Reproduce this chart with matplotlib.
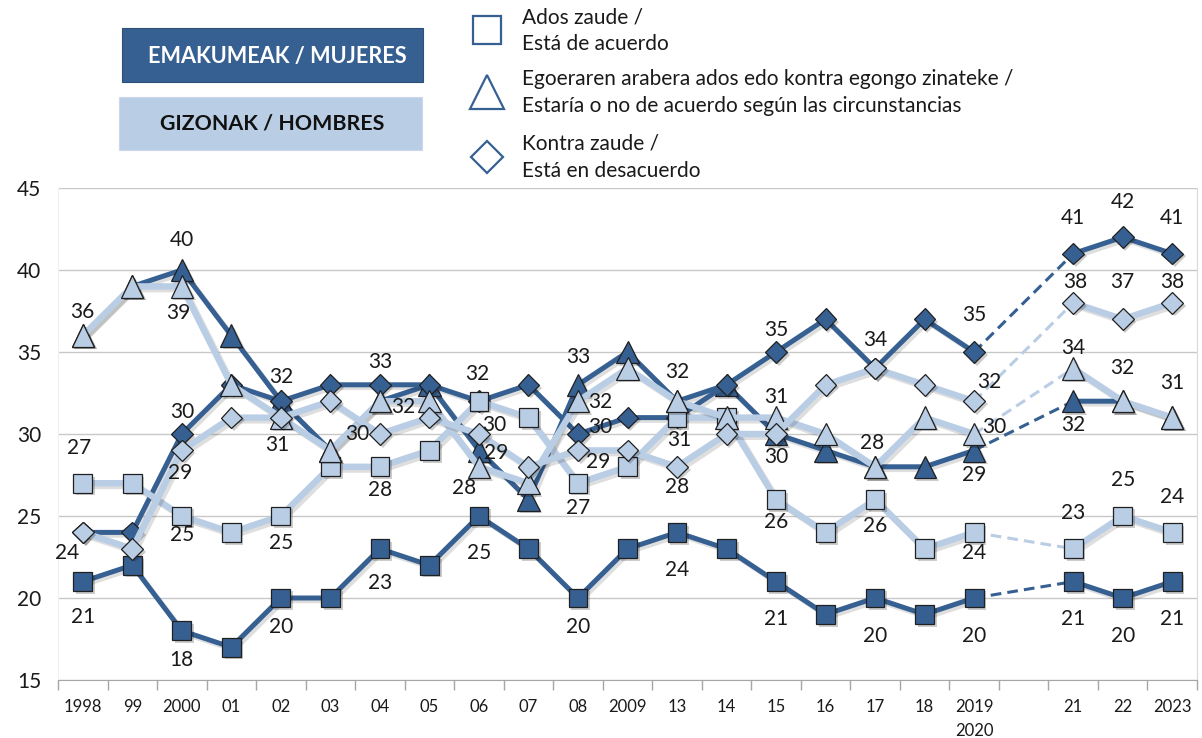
import numpy as np
import matplotlib.pyplot as plt
import matplotlib.patheffects as pe
from matplotlib.patches import Rectangle

plt.rcParams['font.family'] = ['Lato', 'DejaVu Sans']

DARK = '#376092'
LIGHT = '#B9CDE5'

years = ['1998', '99', '2000', '01', '02', '03', '04', '05', '06', '07', '08',
         '2009', '13', '14', '15', '16', '17', '18', '2019\n2020', '', '21', '22', '2023']

# None = empty slot between 2019/2020 and 2021
women_agree = [21, 22, 18, 17, 20, 20, 23, 22, 25, 23, 20, 23, 24, 23, 21, 19, 20, 19, 20, None, 21, 20, 21]
women_depends = [36, 39, 40, 36, 32, 29, 32, 33, 29, 26, 33, 35, 32, 33, 30, 29, 28, 28, 29, None, 32, 32, 31]
women_disagree = [24, 24, 30, 33, 32, 33, 33, 33, 32, 33, 30, 31, 31, 33, 35, 37, 34, 37, 35, None, 41, 42, 41]
men_agree = [27, 27, 25, 24, 25, 28, 28, 29, 32, 31, 27, 28, 31, 31, 26, 24, 26, 23, 24, None, 23, 25, 24]
men_depends = [36, 39, 39, 33, 31, 29, 32, 32, 28, 27, 32, 34, 32, 31, 31, 30, 28, 31, 30, None, 34, 32, 31]
men_disagree = [24, 23, 29, 31, 31, 32, 30, 31, 30, 28, 29, 29, 28, 30, 30, 33, 34, 33, 32, None, 38, 37, 38]

# which points get a value label, and label offset in pixels (dx, dy)
label_pos = {
    'wa': [(0, 0, -35), (2, 0, -29), (4, 0, -29), (6, 0, -34), (8, 0, -37), (10, 0, -29),
           (12, 0, -38), (14, 0, -37), (16, 0, -38), (18, 0, -38), (20, 0, -37),
           (21, 0, -38), (22, 0, -37)],
    'ma': [(0, -4, 35), (2, 0, -19), (4, 0, -27), (6, 0, -23), (8, -2, 27), (10, 0, -25),
           (12, 2, -22), (14, 0, -22), (16, 0, -26), (18, 0, -21), (20, 0, 36),
           (21, 0, 36), (22, 0, 35)],
    'wt': [(2, 0, 30), (8, 17, -3), (10, 0, 28), (12, 0, 29), (14, 0, -23), (16, -3, 24),
           (18, 0, -25), (20, 0, -24)],
    'mt': [(0, 0, 24), (2, -4, -27), (4, -4, -27), (6, 23, -6), (8, -15, -21), (10, 22, -1),
           (14, 0, 21), (18, 20, 7), (20, 0, 20), (21, 0, 33), (22, 0, 35)],
    'wd': [(2, 0, 22), (4, 0, 24), (6, 0, 23), (10, 22, 7), (14, 0, 22), (16, 0, 28),
           (18, 0, 37), (20, 0, 36), (21, 0, 35), (22, 0, 36)],
    'md': [(0, -16, -21), (2, -2, -23), (6, -23, 0), (8, 15, 9), (10, 20, -12), (12, 0, -20),
           (18, 15, 19), (20, 2, 21), (21, 0, 37), (22, 0, 21)],
}

fig = plt.figure(figsize=(12.02, 7.38), dpi=100)
W, H = 1202, 738
ax = fig.add_axes([58 / W, (H - 680) / H, (1197 - 58) / W, (680 - 188) / H])

x = np.arange(len(years))
gap = years.index('')

line_fx = [pe.SimpleLineShadow(offset=(2, -2), shadow_color='k', alpha=0.13), pe.Normal()]
mark_fx = [pe.SimplePatchShadow(offset=(2, -2), shadow_rgbFace='k', alpha=0.2), pe.Normal()]


def series(key, vals, color, marker, ms, lw, z):
    y = np.array([np.nan if v is None else v for v in vals], dtype=float)
    ax.plot([gap - 1, gap + 1], [y[gap - 1], y[gap + 1]], color=color, lw=2.2,
            ls=(0, (3.5, 2)), zorder=z)
    ax.plot(x, y, color=color, lw=lw, solid_joinstyle='round', zorder=z,
            path_effects=line_fx)
    ax.plot(x, y, ls='none', marker=marker, ms=ms, mfc=color, mec='#202020', mew=0.9,
            zorder=z + 0.5, path_effects=mark_fx)
    for i, dx, dy in label_pos[key]:
        ax.annotate(f'{vals[i]}', (x[i], y[i]), xytext=(dx, dy), textcoords='offset pixels',
                    ha='center', va='center', fontsize=15, color='#1a1a1a', zorder=20)


series('wa', women_agree, DARK, 's', 13.5, 3.6, 2)
series('wt', women_depends, DARK, '^', 16, 3.6, 4)
series('wd', women_disagree, DARK, 'D', 11, 3.6, 6)
series('ma', men_agree, LIGHT, 's', 13.5, 4.6, 8)
series('mt', men_depends, LIGHT, '^', 16, 4.6, 10)
series('md', men_disagree, LIGHT, 'D', 11, 4.6, 12)

ax.set_xlim(-0.5, len(years) - 0.5)
ax.set_ylim(15, 45)
ax.set_yticks(range(15, 50, 5))
ax.grid(axis='y', color='#c8c8c8', lw=1)
ax.set_axisbelow(True)
ax.set_xticks(x)
ax.set_xticklabels(years)
ax.set_xticks(np.arange(-0.5, len(years)), minor=True)
ax.tick_params(axis='x', which='major', length=0, labelsize=12, pad=14, colors='#1a1a1a')
ax.tick_params(axis='x', which='minor', length=7, color='#a6a6a6', width=1)
ax.tick_params(axis='y', length=0, labelsize=15, pad=12, colors='#1a1a1a')
for t in ax.get_xticklabels():
    t.set_linespacing(1.55)
ax.spines['top'].set_visible(False)
ax.spines['left'].set_color('#f0f0f0')
ax.spines['right'].set_color('#d9d9d9')
ax.spines['bottom'].set_color('#a6a6a6')

# legend layer, drawn in pixel coordinates
lax = fig.add_axes([0, 0, 1, 1], zorder=10)
lax.set_xlim(0, W)
lax.set_ylim(H, 0)
lax.axis('off')
lax.patch.set_visible(False)

lax.add_patch(Rectangle((452, 0), 567, 187, fc='white', ec='none'))
lax.add_patch(Rectangle((122, 28), 301, 54, fc=DARK, ec='#2d4f78', lw=0.8))
lax.text(277, 56, 'EMAKUMEAK / MUJERES', color='white', fontweight='bold',
         ha='center', va='center', fontsize=15.6)
lax.add_patch(Rectangle((119, 97), 303, 53, fc=LIGHT, ec='#c9d8ea', lw=0.8))
lax.text(272, 124, 'GIZONAK / HOMBRES', color='#111111', fontweight='bold',
         ha='center', va='center', fontsize=15.4)

legend_rows = [
    ('s', 20, 30, 'Ados zaude /', 'Está de acuerdo'),
    ('^', 24, 92, 'Egoeraren arabera ados edo kontra egongo zinateke /',
     'Estaría o no de acuerdo según las circunstancias'),
    ('D', 16, 157, 'Kontra zaude /', 'Está en desacuerdo'),
]
for mk, size, yc, l1, l2 in legend_rows:
    lax.plot([487], [yc], marker=mk, ms=size, mfc='white', mec=DARK, mew=1.6, ls='none')
    lax.text(522, yc - 13, l1, ha='left', va='center', fontsize=15, color='#1a1a1a')
    lax.text(522, yc + 14, l2, ha='left', va='center', fontsize=15, color='#1a1a1a')

fig.savefig('out.png', dpi=100)
